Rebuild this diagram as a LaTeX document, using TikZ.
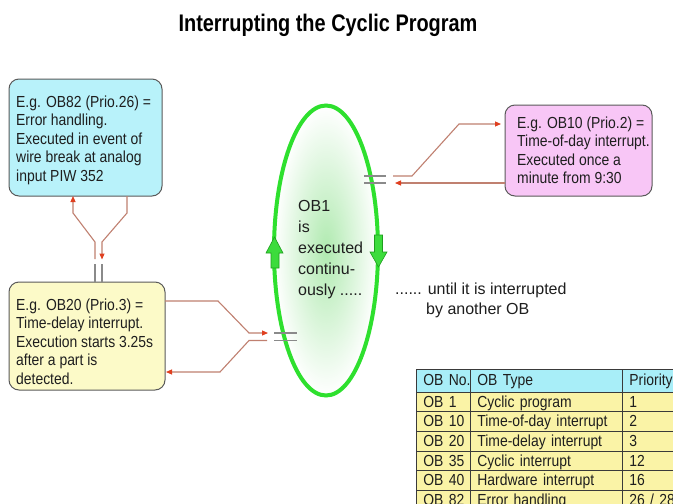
\documentclass[tikz,border=0pt]{standalone}
\usepackage{graphicx}
\usepackage{fontspec}
\setmainfont{Liberation Sans}
\newfontfamily\narrowsans[FakeStretch=0.87]{Liberation Sans}
\usetikzlibrary{shapes.geometric,arrows.meta}

\definecolor{cyanbox}{HTML}{B8F2FA}
\definecolor{yellowbox}{HTML}{FCFAC8}
\definecolor{pinkbox}{HTML}{F8C6F6}
\definecolor{boxline}{HTML}{5A5A5A}
\definecolor{connline}{HTML}{C08070}
\definecolor{tipred}{HTML}{E04020}
\definecolor{brkgray}{HTML}{8A8A8A}
\definecolor{ringgreen}{HTML}{2EE02E}
\definecolor{haze}{HTML}{B0EAB0}
\definecolor{arrowgreen}{HTML}{3CDC3C}
\definecolor{arrowedge}{HTML}{1E9E1E}
\definecolor{hdrcyan}{HTML}{A8EEF8}
\definecolor{rowyellow}{HTML}{FAF3A6}
\definecolor{gridline}{HTML}{3A3A3A}
\definecolor{ink}{HTML}{1E1E1E}

\begin{document}
\begin{tikzpicture}[x=1pt,y=-1pt,
  obbox/.style={draw=boxline, line width=1pt, rounded corners=10pt,
    inner sep=0pt, outer sep=0pt},
  boxtext/.style={inner sep=0pt, anchor=west, align=left, text=ink,
    font=\narrowsans\fontsize{16}{18.5}\selectfont},
  bigtext/.style={inner sep=0pt, anchor=west, align=left, text=ink,
    font=\fontsize{16}{21}\selectfont},
  conn/.style={draw=connline, line width=1.1pt},
  redtip/.style={-{Triangle[length=6pt,width=5pt,color=tipred]}},
  brk/.style={draw=brkgray, line width=1.2pt},
  greenarrow/.style={fill=arrowgreen, draw=arrowedge, line width=0.6pt},
  cell/.style={draw=gridline, line width=0.8pt, anchor=north west,
    inner xsep=7pt, inner ysep=0pt, align=left, text=ink,
    text height=11.5pt, text depth=1pt, minimum height=19.7pt,
    font=\narrowsans\fontsize{16}{18}\selectfont},
  colA/.style={cell, minimum width=54pt, text width=40pt},
  colB/.style={cell, minimum width=152pt, text width=138pt},
  colC/.style={cell, minimum width=78pt, text width=64pt},
  hdr/.style={fill=hdrcyan, minimum height=23pt},
  row/.style={fill=rowyellow}]

\useasboundingbox (0,0) rectangle (673,504);
\clip (0,0) rectangle (673,504);
\fill[white] (0,0) rectangle (673,504);

% title
\node[anchor=base, inner sep=0pt, text=black,
  font=\fontsize{24}{28}\bfseries\selectfont] (title) at (328,31)
  {\scalebox{0.83}[1]{Interrupting the Cyclic Program}};

% cyclic program OB1
\node[ellipse, draw=ringgreen, line width=4pt, inner color=haze,
  outer color=white, minimum width=104pt, minimum height=290pt,
  inner sep=0pt] (ob1) at (326,250.5) {};
\draw[greenarrow] (271,268) -- (271,253) -- (266,253) -- (274.5,237)
  -- (283,253) -- (279,253) -- (279,268) -- cycle;
\draw[greenarrow] (374.5,235) -- (374.5,252) -- (370,252) -- (378.5,267)
  -- (387,252) -- (382.5,252) -- (382.5,235) -- cycle;
\node[bigtext] (ob1text) at (298,250)
  {OB1\\is\\executed\\continu-\\ously .....};

% interrupt blocks
\node[obbox, fill=cyanbox, minimum width=153pt, minimum height=117pt]
  (ob82) at (85.5,137.5) {};
\node[obbox, fill=yellowbox, minimum width=156pt, minimum height=108pt]
  (ob20) at (87,336) {};
\node[obbox, fill=pinkbox, minimum width=147pt, minimum height=91pt]
  (ob10) at (578.5,150.5) {};

\node[boxtext] (t82) at (16,140)
  {E.g. OB82 (Prio.26) =\\Error handling.\\Executed in event of\\wire break at analog\\input PIW 352};
\node[boxtext] (t20) at (16,341.5)
  {E.g. OB20 (Prio.3) =\\Time-delay interrupt.\\Execution starts 3.25s\\after a part is\\detected.};
\node[boxtext] (t10) at (517,150.5)
  {E.g. OB10 (Prio.2) =\\Time-of-day interrupt.\\Executed once a\\minute from 9:30};

\node[bigtext] (until) at (395,290) {...... until it is interrupted};
\node[bigtext] (another) at (426,310) {by another OB};

% OB20 <-> OB82
\draw[conn, redtip] (95,259) -- (95,242) -- (73,213) -- ([xshift=64pt]ob82.south west);
\draw[conn, redtip] ([xshift=118pt]ob82.south west) -- (127,213) -- (102,242) -- (102,259.5);
\draw[brk] (95,264) -- ([xshift=86pt]ob20.north west);
\draw[brk] (102,264) -- ([xshift=93pt]ob20.north west);

% OB20 <-> OB1
\draw[conn, redtip] ([yshift=-19pt]ob20.north east) -- (218,301) -- (249,333) -- (268,333);
\draw[conn, redtip] (267,340.5) -- (249,340.5) -- (220,372) -- ([yshift=18pt,xshift=1pt]ob20.south east);
\draw[brk] (274,333) -- (297,333);
\draw[brk] (274,340.5) -- (297,340.5);

% OB1 <-> OB10
\draw[conn, redtip] (393,176) -- (412,176) -- (459,124) -- ([yshift=-19pt,xshift=-4pt]ob10.north west);
\draw[conn, redtip] ([yshift=-78pt]ob10.north west) -- (395,183);
\draw[brk] (364,176) -- (386,176);
\draw[brk] (364,183) -- (386,183);

% overview table
\node[colA, hdr] (h1) at (416,368.5) {OB~No.};
\node[colB, hdr] (h2) at (470,368.5) {OB Type};
\node[colC, hdr] (h3) at (622,368.5) {Priority};

\node[colA, row] (a1) at (416,391.5) {OB~1};
\node[colB, row] (b1) at (470,391.5) {Cyclic program};
\node[colC, row] (c1) at (622,391.5) {1};

\node[colA, row] (a2) at (416,411.2) {OB~10};
\node[colB, row] (b2) at (470,411.2) {Time-of-day interrupt};
\node[colC, row] (c2) at (622,411.2) {2};

\node[colA, row] (a3) at (416,430.9) {OB~20};
\node[colB, row] (b3) at (470,430.9) {Time-delay interrupt};
\node[colC, row] (c3) at (622,430.9) {3};

\node[colA, row] (a4) at (416,450.6) {OB~35};
\node[colB, row] (b4) at (470,450.6) {Cyclic interrupt};
\node[colC, row] (c4) at (622,450.6) {12};

\node[colA, row] (a5) at (416,470.3) {OB~40};
\node[colB, row] (b5) at (470,470.3) {Hardware interrupt};
\node[colC, row] (c5) at (622,470.3) {16};

\node[colA, row] (a6) at (416,490) {OB~82};
\node[colB, row] (b6) at (470,490) {Error handling};
\node[colC, row] (c6) at (622,490) {26 / 28};
\end{tikzpicture}
\end{document}
